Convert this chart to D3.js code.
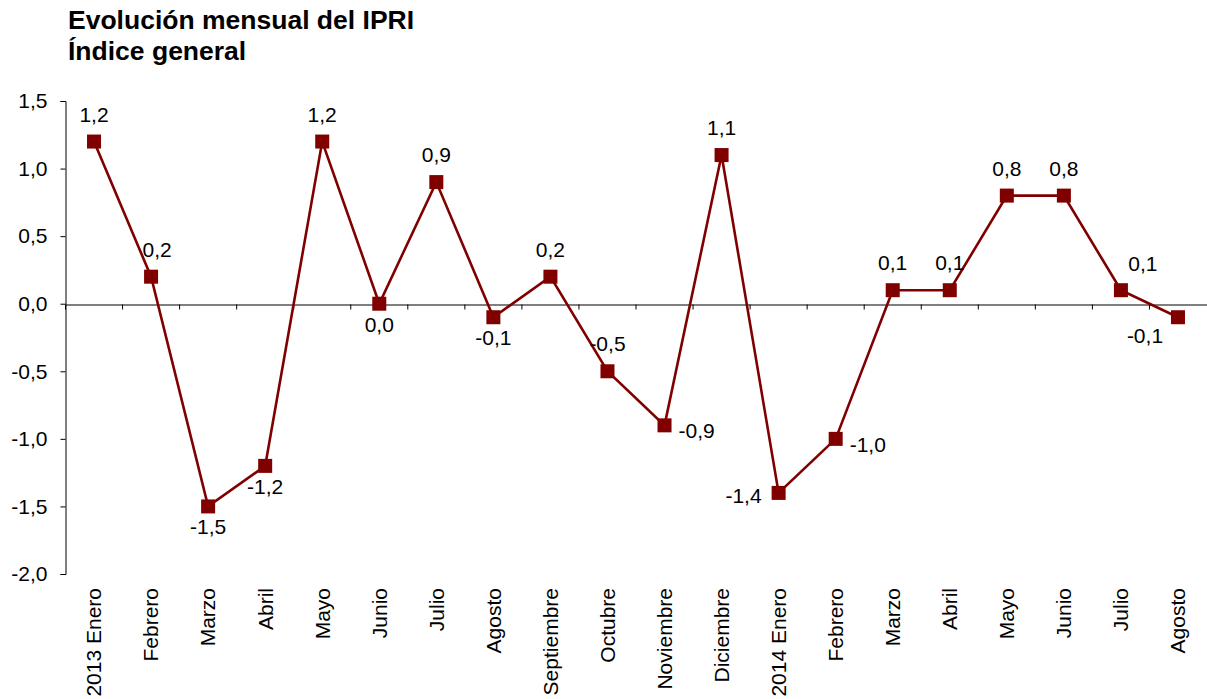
<!DOCTYPE html>
<html>
<head>
<meta charset="utf-8">
<script src="https://cdn.jsdelivr.net/npm/d3@7"></script>
<style>
  body { margin: 0; background: #fff; }
  svg { display: block; font-family: "Liberation Sans", Arial, sans-serif; }
</style>
</head>
<body>
<svg id="chart"></svg>
<script>
// month labels, values and where each value label sits
const months = ['2013 Enero', 'Febrero', 'Marzo', 'Abril', 'Mayo', 'Junio', 'Julio', 'Agosto',
  'Septiembre', 'Octubre', 'Noviembre', 'Diciembre', '2014 Enero', 'Febrero', 'Marzo',
  'Abril', 'Mayo', 'Junio', 'Julio', 'Agosto'];
const values = [1.2, 0.2, -1.5, -1.2, 1.2, 0.0, 0.9, -0.1, 0.2, -0.5, -0.9, 1.1, -1.4, -1.0,
  0.1, 0.1, 0.8, 0.8, 0.1, -0.1];
const labelPlace = ['above', 'aboveNudge', 'below', 'below', 'above', 'below', 'above', 'below',
  'above', 'above', 'right', 'above', 'left', 'right', 'above', 'above', 'above', 'above',
  'aboveRight', 'belowLeft'];
const yTicks = [-2.0, -1.5, -1.0, -0.5, 0.0, 0.5, 1.0, 1.5];
const titleLines = ['Evolución mensual del IPRI', 'Índice general'];

const width = 1207, height = 699;
const red = '#800000';

const svg = d3.select('#chart')
  .attr('width', width)
  .attr('height', height);

const es = d3.formatLocale({decimal: ',', thousands: '.', grouping: [3], currency: ['', '€'], minus: '-'});
const fmt = es.format('.1f');

const x = d3.scaleBand()
  .domain(d3.range(months.length))
  .range([65.5, 1206.5]);

const y = d3.scaleLinear()
  .domain([-2, 1.5])
  .range([574, 101]);

// title
svg.append('g').selectAll('text')
  .data(titleLines)
  .enter()
  .append('text')
  .attr('x', 68)
  .attr('y', (d, i) => 29 + i * 31)
  .style('font-size', '26.5px')
  .style('font-weight', 'bold')
  .text(d => d);

// y axis
const yAxis = svg.append('g')
  .attr('transform', 'translate(65.5,0)')
  .call(d3.axisLeft(y).tickValues(yTicks).tickFormat(fmt).tickSize(5).tickPadding(13));
yAxis.selectAll('text').style('font-size', '21px').attr('fill', '#000');
yAxis.selectAll('path, line').attr('stroke', '#000');

// x axis at zero, ticks on the band boundaries
const xAxis = svg.append('g')
  .attr('transform', `translate(0,${Math.round(y(0)) + 0.5})`)
  .call(d3.axisBottom(x).tickFormat('').tickSize(5).tickSizeOuter(0));
xAxis.selectAll('.tick').attr('transform', d => `translate(${x(d)},0)`);
xAxis.selectAll('path, line').attr('stroke', '#000');

// month labels
svg.append('g').selectAll('text')
  .data(months)
  .enter()
  .append('text')
  .attr('transform', (d, i) => `translate(${x(i) + x.bandwidth() / 2},588) rotate(-90)`)
  .attr('text-anchor', 'end')
  .attr('dy', '0.35em')
  .style('font-size', '21px')
  .text(d => d);

const cx = i => x(i) + x.bandwidth() / 2;

// line
const line = d3.line()
  .x((d, i) => cx(i))
  .y(d => y(d));

svg.append('path')
  .datum(values)
  .attr('d', line)
  .attr('fill', 'none')
  .attr('stroke', red)
  .attr('stroke-width', 2.6);

// markers
svg.append('g').selectAll('rect')
  .data(values)
  .enter()
  .append('rect')
  .attr('x', (d, i) => cx(i) - 7)
  .attr('y', d => y(d) - 7)
  .attr('width', 14)
  .attr('height', 14)
  .attr('fill', red);

// value labels
const place = {
  above: {dx: 0, dy: -20, anchor: 'middle'},
  aboveNudge: {dx: 6, dy: -20, anchor: 'middle'},
  below: {dx: 0, dy: 28, anchor: 'middle'},
  right: {dx: 14, dy: 13, anchor: 'start'},
  left: {dx: -17, dy: 10, anchor: 'end'},
  aboveRight: {dx: 22, dy: -19, anchor: 'middle'},
  belowLeft: {dx: -33, dy: 26, anchor: 'middle'}
};

svg.append('g').selectAll('text')
  .data(values)
  .enter()
  .append('text')
  .attr('x', (d, i) => cx(i) + place[labelPlace[i]].dx)
  .attr('y', (d, i) => y(d) + place[labelPlace[i]].dy)
  .attr('text-anchor', (d, i) => place[labelPlace[i]].anchor)
  .style('font-size', '21px')
  .text(d => fmt(d));
</script>
</body>
</html>
